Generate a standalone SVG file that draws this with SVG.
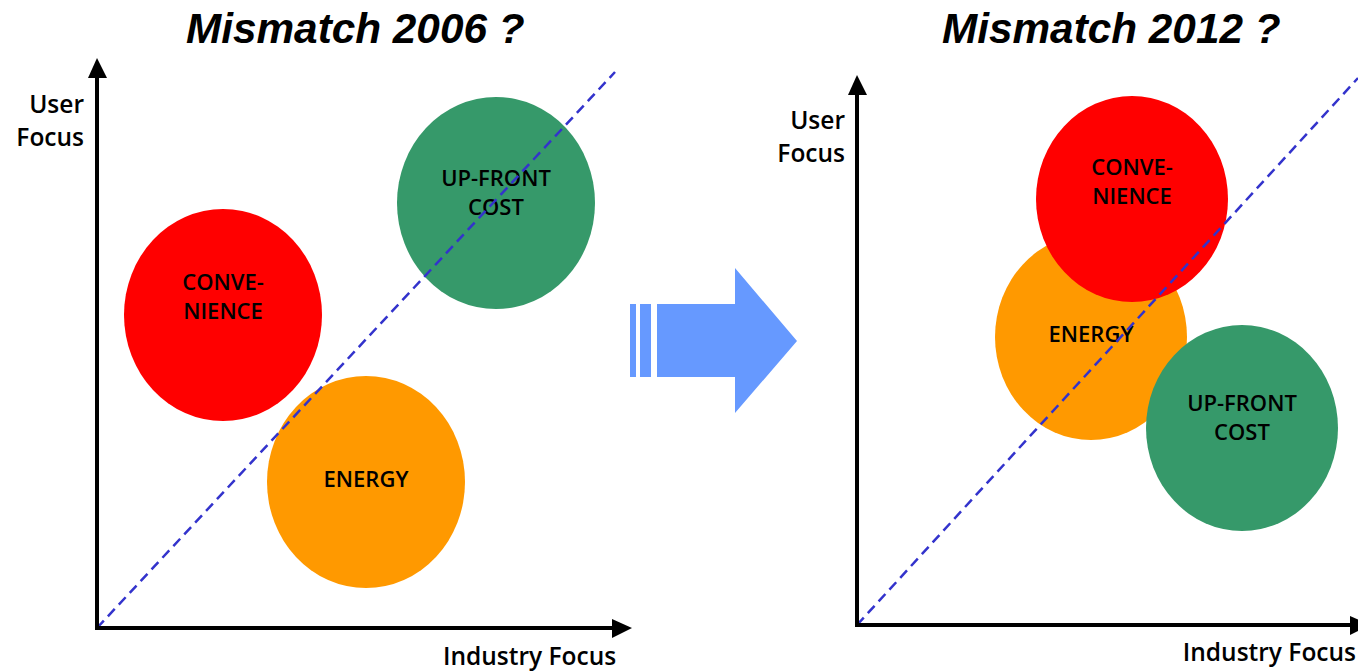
<svg xmlns="http://www.w3.org/2000/svg" width="1358" height="671" viewBox="0 0 1358 671">
<style>
.title{font-family:"Liberation Sans",Arial,sans-serif;font-weight:bold;font-style:italic;font-size:42.3px;fill:#000}
.lbl{font-family:"Open Sans","DejaVu Sans",sans-serif;font-weight:600;font-size:22px;fill:#000;text-anchor:middle}
.axl{font-family:"Open Sans","DejaVu Sans",sans-serif;font-weight:600;font-size:24.5px;fill:#000}
.axis{stroke:#000;stroke-width:4;fill:none}
.diag{stroke:#3333cc;stroke-width:2.5;stroke-dasharray:10 6;fill:none}
</style>
<rect width="1358" height="671" fill="#fff"/>
<text class="title" x="186" y="43">Mismatch 2006 ?</text>
<text class="title" x="942" y="43">Mismatch 2012 ?</text>

<g id="left-nodes">
<g id="l-conv"><ellipse cx="223" cy="315" rx="99" ry="106" fill="#ff0000"/><text class="lbl" x="223" y="290">CONVE-</text><text class="lbl" x="223" y="319">NIENCE</text></g>
<g id="l-cost"><ellipse cx="496" cy="203" rx="99" ry="106" fill="#36996a"/><text class="lbl" x="496" y="186">UP-FRONT</text><text class="lbl" x="496" y="215">COST</text></g>
<g id="l-energy"><ellipse cx="366" cy="482" rx="99" ry="106" fill="#ff9900"/><text class="lbl" x="366" y="487">ENERGY</text></g>
</g>
<g id="right-nodes">
<g id="r-energy"><ellipse cx="1091" cy="337" rx="96" ry="103" fill="#ff9900"/><text class="lbl" x="1091" y="342">ENERGY</text></g>
<g id="r-conv"><ellipse cx="1132" cy="199" rx="96" ry="103" fill="#ff0000"/><text class="lbl" x="1132" y="175">CONVE-</text><text class="lbl" x="1132" y="204">NIENCE</text></g>
<g id="r-cost"><ellipse cx="1242" cy="428" rx="96" ry="103" fill="#36996a"/><text class="lbl" x="1242" y="411">UP-FRONT</text><text class="lbl" x="1242" y="440">COST</text></g>
</g>

<g id="connectors">
<line class="diag" x1="97" y1="628" x2="615" y2="72"/>
<line class="diag" x1="857" y1="625" x2="1358" y2="78"/>
<line class="axis" x1="97" y1="628" x2="97" y2="78"/>
<path d="M88,78 L97,58 L107,78 Z" fill="#000"/>
<line class="axis" x1="95" y1="628" x2="612" y2="628"/>
<path d="M612,619 L632,628 L612,638 Z" fill="#000"/>
<line class="axis" x1="857" y1="625" x2="857" y2="95"/>
<path d="M848,95 L857,75 L867,95 Z" fill="#000"/>
<line class="axis" x1="855" y1="625" x2="1350" y2="625"/>
<path d="M1350,616 L1370,625 L1350,635 Z" fill="#000"/>
</g>

<g id="axis-labels">
<text class="axl" x="84" y="113" text-anchor="end">User</text>
<text class="axl" x="84" y="146" text-anchor="end">Focus</text>
<text class="axl" x="443" y="665">Industry Focus</text>
<text class="axl" x="845" y="129" text-anchor="end">User</text>
<text class="axl" x="845" y="162" text-anchor="end">Focus</text>
<text class="axl" x="1356" y="661" text-anchor="end">Industry Focus</text>
</g>

<g id="big-arrow" fill="#6699ff">
<rect x="630" y="304" width="6" height="73"/>
<rect x="640" y="304" width="11" height="73"/>
<path d="M657,304 L735,304 L735,268 L797,341 L735,413 L735,377 L657,377 Z"/>
</g>
</svg>
